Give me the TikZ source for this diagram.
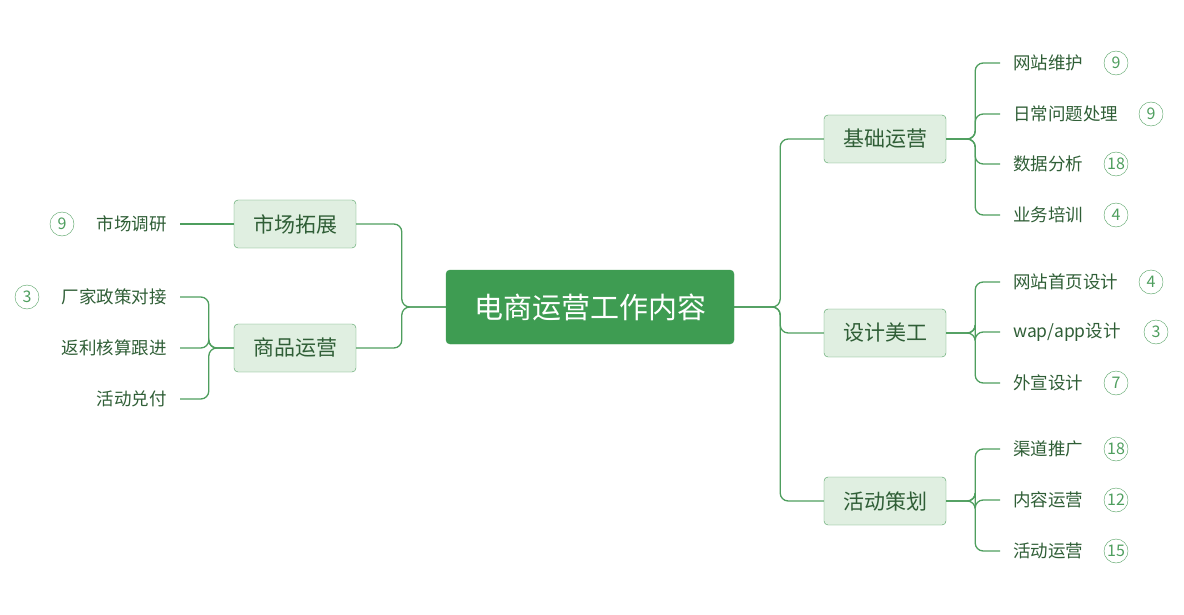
\documentclass[tikz,border=0pt]{standalone}
\usepackage{fontspec}
\newfontfamily\cjk{Noto Sans CJK SC}
\definecolor{lnk}{HTML}{4E9E5E}
\definecolor{rootfill}{HTML}{3E9C52}
\definecolor{subfill}{HTML}{E0EFE1}
\definecolor{txt}{HTML}{2F5E36}
\begin{document}
\begin{tikzpicture}[x=1pt,y=-1pt,font=\cjk,
  root/.style={draw=rootfill,fill=rootfill,rounded corners=4,minimum width=288,minimum height=74,text=white,font=\cjk\fontsize{29}{33}\selectfont},
  sub/.style={draw=lnk,fill=subfill,rounded corners=4,minimum width=122,minimum height=48,text=txt,font=\cjk\fontsize{21}{24}\selectfont},
  leaf/.style={inner xsep=13,inner ysep=2,text=txt,font=\cjk\fontsize{17.5}{20}\selectfont},
  badge/.style={draw=lnk,circle,minimum size=24,inner sep=0,text=lnk,font=\cjk\fontsize{16}{18}\selectfont},
  link/.style={draw=lnk,line width=1.3,rounded corners=8}]
\useasboundingbox (0,0) rectangle (1184,615);
\node (root) at (590,307) [root] {电商运营工作内容};
% left side
\node (sc) at (295,224) [sub] {市场拓展};
\node (sp) at (295,348) [sub] {商品运营};
\node (sc1) at (180,224) [leaf,anchor=east] {市场调研};
\node at (62,224) [badge] {9};
\node (sp1) at (180,297) [leaf,anchor=east] {厂家政策对接};
\node at (27,297) [badge] {3};
\node (sp2) at (180,348) [leaf,anchor=east] {返利核算跟进};
\node (sp3) at (180,399) [leaf,anchor=east] {活动兑付};
% right side
\node (jc) at (885,139) [sub] {基础运营};
\node (sj) at (885,333) [sub] {设计美工};
\node (hd) at (885,501) [sub] {活动策划};
\node (jc1) at (1000,63) [leaf,anchor=west] {网站维护};
\node at (1116,63) [badge] {9};
\node (jc2) at (1000,114) [leaf,anchor=west] {日常问题处理};
\node at (1151,114) [badge] {9};
\node (jc3) at (1000,164) [leaf,anchor=west] {数据分析};
\node at (1116,164) [badge] {18};
\node (jc4) at (1000,215) [leaf,anchor=west] {业务培训};
\node at (1116,215) [badge] {4};
\node (sj1) at (1000,282) [leaf,anchor=west] {网站首页设计};
\node at (1151,282) [badge] {4};
\node (sj2) at (1000,332) [leaf,anchor=west] {wap/app设计};
\node at (1156,332) [badge] {3};
\node (sj3) at (1000,383) [leaf,anchor=west] {外宣设计};
\node at (1116,383) [badge] {7};
\node (hd1) at (1000,449) [leaf,anchor=west] {渠道推广};
\node at (1116,449) [badge] {18};
\node (hd2) at (1000,500) [leaf,anchor=west] {内容运营};
\node at (1116,500) [badge] {12};
\node (hd3) at (1000,551) [leaf,anchor=west] {活动运营};
\node at (1116,551) [badge] {15};
% connectors
\foreach \b in {jc,sj,hd}
  \draw[link] (root.east) -- ++(46,0) |- (\b.west);
\foreach \b in {sc,sp}
  \draw[link] (root.west) -- ++(-44,0) |- (\b.east);
\draw[link] (sc.west) -- (sc1.east);
\foreach \l in {sp1,sp2,sp3}
  \draw[link] (sp.west) -- ++(-25,0) |- (\l.east);
\foreach \l in {jc1,jc2,jc3,jc4}
  \draw[link] (jc.east) -- ++(29,0) |- (\l.west);
\foreach \l in {sj1,sj2,sj3}
  \draw[link] (sj.east) -- ++(29,0) |- (\l.west);
\foreach \l in {hd1,hd2,hd3}
  \draw[link] (hd.east) -- ++(29,0) |- (\l.west);
\end{tikzpicture}
\end{document}
